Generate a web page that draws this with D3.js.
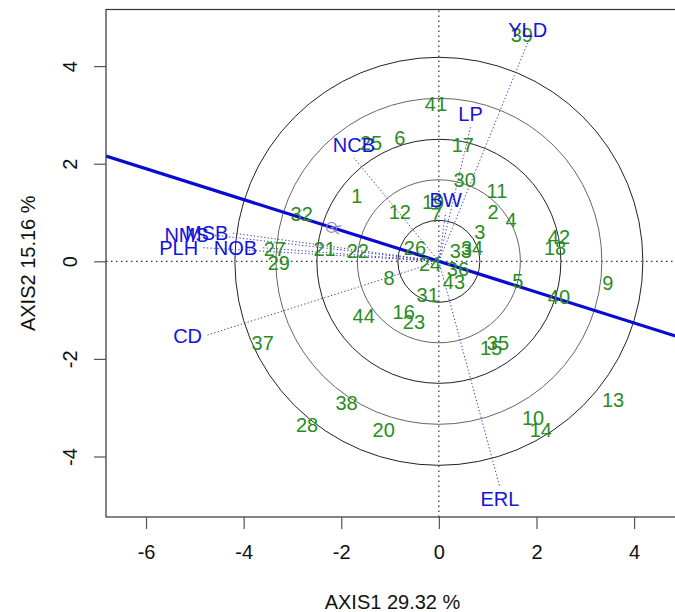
<!DOCTYPE html>
<html>
<head>
<meta charset="utf-8">
<script src="https://d3js.org/d3.v7.min.js"></script>
<style>
  body { margin: 0; background: #fff; }
  text { font-family: "Liberation Sans", Arial, sans-serif; }
</style>
</head>
<body>
<svg width="675" height="612"></svg>
<script>
// genotype scores (label centres), axis 1 / axis 2
const genoIds = ["1","2","3","4","5","6","7","8","9","10","11","12","13","14","15","16","17","18","19","20","21","22",
                 "23","24","25","26","27","28","29","30","31","32","33","34","35","36","37","38","39","40","41","42","43","44"];
const genoX = [-1.68, 1.11, 0.84, 1.48, 1.62, -0.80, -0.06, -1.02, 3.46, 1.93, 1.19, -0.80, 3.57, 2.09, 1.07, -0.72, 0.49, 2.38, -0.12, -1.13, -2.34, -1.66,
               -0.51, -0.18, -1.39, -0.49, -3.36, -2.70, -3.28, 0.53, -0.23, -2.81, 0.45, 0.68, 1.21, 0.39, -3.61, -1.89, 1.70, 2.46, -0.06, 2.46, 0.31, -1.54];
const genoY = [1.34, 1.01, 0.60, 0.85, -0.40, 2.53, 0.95, -0.34, -0.44, -3.21, 1.44, 1.01, -2.84, -3.45, -1.77, -1.03, 2.39, 0.28, 1.22, -3.45, 0.26, 0.22,
               -1.24, -0.05, 2.43, 0.28, 0.26, -3.35, -0.03, 1.67, -0.69, 0.97, 0.22, 0.28, -1.67, -0.15, -1.67, -2.90, 4.64, -0.73, 3.23, 0.50, -0.42, -1.12];

// trait / environment vectors
const envNames = ["YLD", "LP", "NCB", "BW", "NMS", "MSB", "PLH", "NOB", "CD", "ERL"];
const envX = [1.82, 0.65, -1.74, 0.14, -4.63, -4.23, -4.85, -3.64, -4.77, 1.25];
const envY = [4.48, 2.76, 2.12, 1.00, 0.54, 0.58, 0.28, 0.28, -1.52, -4.63];

const ringRadii = [0.84, 1.67, 2.50, 3.34, 4.18];
const xTicks = [-6, -4, -2, 0, 2, 4];
const yTicks = [-4, -2, 0, 2, 4];
const aeaSlope = -0.316;        // average environment axis
const aeaPoint = [-2.20, 0.695];
const xTitle = "AXIS1 29.32 %";
const yTitle = "AXIS2 15.16 %";

const svg = d3.select("svg");
const pL = 106, pR = 679, pT = 9.5, pB = 517;
const fs = 20;

const x = d3.scaleLinear().domain([-6.82, 4.92]).range([pL, pR]);
const y = d3.scaleLinear().domain([-5.24, 5.16]).range([pB, pT]);

svg.append("defs").append("clipPath").attr("id", "plotclip")
    .append("rect").attr("x", pL).attr("y", pT)
    .attr("width", pR - pL).attr("height", pB - pT);

const plot = svg.append("g").attr("clip-path", "url(#plotclip)");

// reference lines through origin
plot.append("line")
    .attr("x1", x(-6.82)).attr("x2", x(4.92)).attr("y1", y(0)).attr("y2", y(0))
    .attr("stroke", "#000").attr("stroke-dasharray", "1.5,3.5");
plot.append("line")
    .attr("x1", x(0)).attr("x2", x(0)).attr("y1", y(-5.24)).attr("y2", y(5.16))
    .attr("stroke", "#000").attr("stroke-dasharray", "1.5,3.5");

// concentric circles
plot.selectAll("circle.ring").data(ringRadii).enter()
    .append("circle").attr("class", "ring")
    .attr("cx", x(0)).attr("cy", y(0))
    .attr("r", d => x(d) - x(0))
    .attr("fill", "none")
    .attr("stroke", (d, i) => i % 2 ? "#666" : "#222")
    .attr("stroke-width", 1);

// average environment axis
plot.append("line")
    .attr("x1", x(-6.82)).attr("y1", y(-6.82 * aeaSlope))
    .attr("x2", x(4.92)).attr("y2", y(4.92 * aeaSlope))
    .attr("stroke", "#0a0ad0").attr("stroke-width", 3.2);

// average environment marker
const ax = x(aeaPoint[0]), ay = y(aeaPoint[1]);
plot.append("circle").attr("cx", ax).attr("cy", ay).attr("r", 5)
    .attr("fill", "none").attr("stroke", "#8a8acc").attr("stroke-width", 1.2);
const ang = Math.atan2(ay - y(0), ax - x(0));
const hl = 10, ha = 0.45;
plot.append("path")
    .attr("d", "M" + (ax - hl * Math.cos(ang - ha)) + "," + (ay - hl * Math.sin(ang - ha)) +
               "L" + ax + "," + ay +
               "L" + (ax - hl * Math.cos(ang + ha)) + "," + (ay - hl * Math.sin(ang + ha)))
    .attr("fill", "none").attr("stroke", "#8a8acc").attr("stroke-width", 1.2);

// environment vectors
plot.selectAll("line.env").data(envNames).enter()
    .append("line").attr("class", "env")
    .attr("x1", x(0)).attr("y1", y(0))
    .attr("x2", (d, i) => x(envX[i])).attr("y2", (d, i) => y(envY[i]))
    .attr("stroke", "#3a3ac0").attr("stroke-width", 1)
    .attr("stroke-dasharray", "1.3,2.2");

// genotype labels
plot.selectAll("text.geno").data(genoIds).enter()
    .append("text").attr("class", "geno")
    .attr("x", (d, i) => x(genoX[i]))
    .attr("y", (d, i) => y(genoY[i]))
    .attr("dy", "0.36em")
    .attr("text-anchor", "middle")
    .attr("font-size", fs)
    .attr("fill", "#2a8c22")
    .text(d => d);

// environment labels, placed beyond the vector end
const off = 4;
plot.selectAll("text.env").data(envNames).enter()
    .append("text").attr("class", "env")
    .each(function(d, i) {
        const px = x(envX[i]), py = y(envY[i]);
        const t = d3.select(this);
        if (Math.abs(envX[i]) > Math.abs(envY[i])) {
            t.attr("x", envX[i] < 0 ? px - off : px + off).attr("y", py)
             .attr("dy", "0.36em")
             .attr("text-anchor", envX[i] < 0 ? "end" : "start");
        } else {
            t.attr("x", px).attr("text-anchor", "middle");
            if (envY[i] > 0) t.attr("y", py - off - 2);
            else t.attr("y", py + off).attr("dy", "0.72em");
        }
    })
    .attr("font-size", fs)
    .attr("fill", "#1414dc")
    .text(d => d);

// frame
svg.append("rect")
    .attr("x", pL).attr("y", pT)
    .attr("width", pR - pL).attr("height", pB - pT)
    .attr("fill", "none").attr("stroke", "#333").attr("stroke-width", 1.2);

// axes
const gx = svg.append("g")
    .attr("transform", "translate(0," + pB + ")")
    .call(d3.axisBottom(x).tickValues(xTicks).tickSize(12).tickPadding(16).tickFormat(d3.format("d")));
const gy = svg.append("g")
    .attr("transform", "translate(" + pL + ",0)")
    .call(d3.axisLeft(y).tickValues(yTicks).tickSize(12).tickFormat(d3.format("d")));

[gx, gy].forEach(g => {
    g.select(".domain").remove();
    g.selectAll(".tick line").attr("stroke", "#555").attr("stroke-width", 1.2);
    g.selectAll(".tick text").attr("font-size", fs).attr("fill", "#111")
        .attr("font-family", "'Liberation Sans', Arial, sans-serif");
});
gx.selectAll(".tick text").text(d => d < 0 ? "-" + Math.abs(d) : d);
gy.selectAll(".tick text")
    .text(d => d < 0 ? "-" + Math.abs(d) : d)
    .attr("x", null).attr("dy", "0.36em")
    .attr("text-anchor", "middle")
    .attr("transform", "translate(-36,0) rotate(-90)");

// axis titles
svg.append("text")
    .attr("x", (pL + pR) / 2).attr("y", 602).attr("dy", "0.36em")
    .attr("text-anchor", "middle").attr("font-size", fs).attr("fill", "#111")
    .text(xTitle);
svg.append("text")
    .attr("transform", "translate(28," + ((pT + pB) / 2) + ") rotate(-90)")
    .attr("dy", "0.36em")
    .attr("text-anchor", "middle").attr("font-size", fs).attr("fill", "#111")
    .text(yTitle);
</script>
</body>
</html>
